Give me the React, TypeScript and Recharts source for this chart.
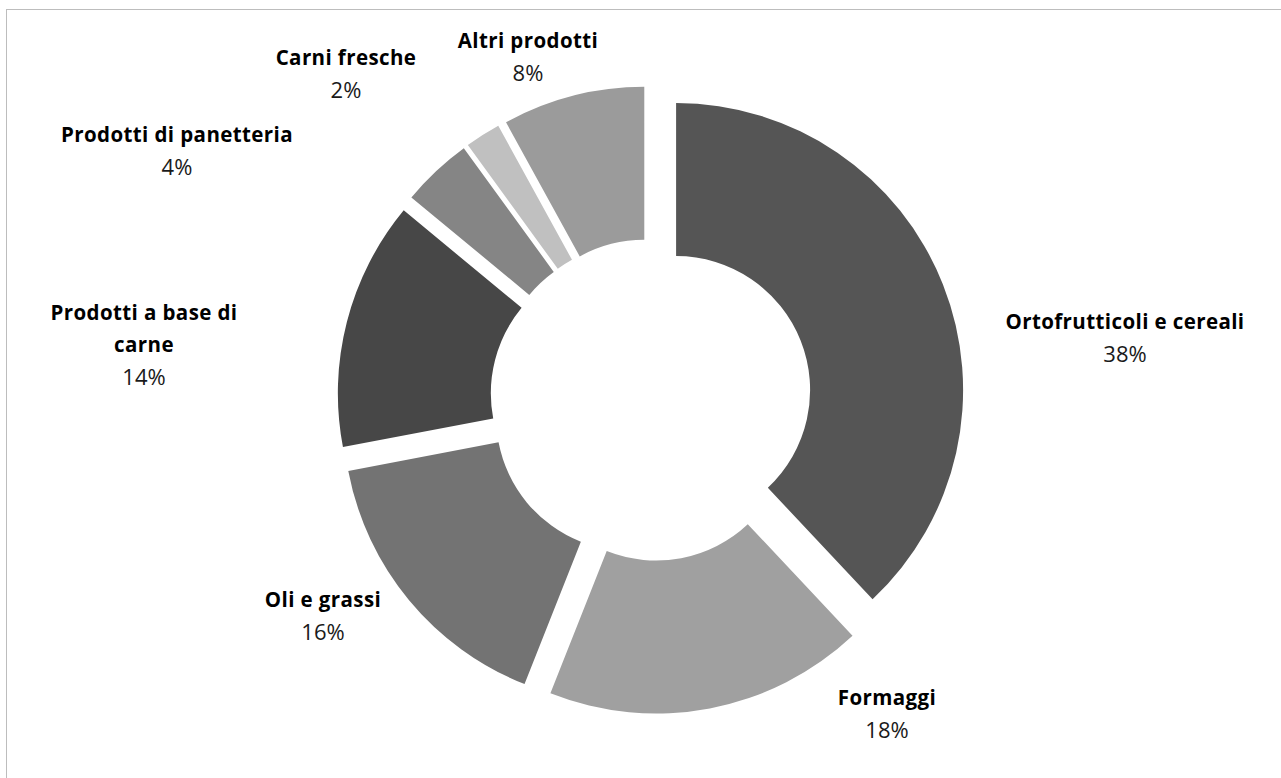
import React from "react";
import { PieChart, Pie, Cell, Sector } from "recharts";

const categories = [
  "Ortofrutticoli e cereali",
  "Formaggi",
  "Oli e grassi",
  "Prodotti a base di\ncarne",
  "Prodotti di panetteria",
  "Carni fresche",
  "Altri prodotti",
];
const shares = [38, 18, 16, 14, 4, 2, 8];

const colors = ["#555555", "#a0a0a0", "#737373", "#474747", "#858585", "#c0c0c0", "#9b9b9b"];

// label anchor (center x, first baseline) relative to pie center
const labelOffsets: Array<[number, number]> = [
  [474, -71],
  [236, 305],
  [-328, 207],
  [-507, -80],
  [-474, -258],
  [-305, -335],
  [-123, -352],
];

const data = categories.map((name, i) => ({ name, value: shares[i] }));

const CX = 646;
const CY = 395;
const EXPLODE = 27;
const RAD = Math.PI / 180;
const FONT = "'Open Sans', 'Noto Sans', sans-serif";

function ExplodedSector(props: any) {
  const { cx, cy, midAngle, innerRadius, outerRadius, startAngle, endAngle, fill } = props;
  const x = cx + EXPLODE * Math.cos(-midAngle * RAD);
  const y = cy + EXPLODE * Math.sin(-midAngle * RAD);
  return (
    <Sector
      cx={x}
      cy={y}
      innerRadius={innerRadius}
      outerRadius={outerRadius}
      startAngle={startAngle}
      endAngle={endAngle}
      fill={fill}
      stroke="none"
    />
  );
}

function renderLabel(props: any) {
  const { cx, cy, index, percent } = props;
  const [ox, oy] = labelOffsets[index];
  const x = cx + ox;
  const y = cy + oy;
  const lines = String(data[index].name).split("\n");
  return (
    <g key={`lbl-${index}`}>
      {lines.map((ln, j) => (
        <text
          key={j}
          x={x}
          y={y + j * 32}
          textAnchor="middle"
          fontFamily={FONT}
          fontSize={20.5}
          fontWeight={700}
          letterSpacing={0.4}
          fill="#000"
        >
          {ln}
        </text>
      ))}
      <text
        x={x}
        y={y + lines.length * 32 + 1}
        textAnchor="middle"
        fontFamily={FONT}
        fontSize={22}
        fill="#1a1a1a"
      >
        {`${Math.round(percent * 100)}%`}
      </text>
    </g>
  );
}

export default function App() {
  return (
    <div
      style={{
        position: "fixed",
        left: 0,
        top: 0,
        width: 1281,
        height: 778,
        overflow: "hidden",
        background: "#fff",
      }}
    >
      <div
        style={{
          position: "absolute",
          left: 6,
          top: 9,
          width: 1300,
          height: 800,
          border: "1.5px solid #bdbdbd",
        }}
      />
      <div style={{ position: "absolute", left: 0, top: 0 }}>
        <PieChart width={1281} height={778}>
          <Pie
            data={data}
            dataKey="value"
            nameKey="name"
            cx={CX}
            cy={CY}
            innerRadius={134}
            outerRadius={287}
            startAngle={90}
            endAngle={-270}
            stroke="none"
            shape={ExplodedSector}
            label={renderLabel}
            labelLine={false}
            isAnimationActive={false}
          >
            {data.map((d, i) => (
              <Cell key={d.name} fill={colors[i]} />
            ))}
          </Pie>
        </PieChart>
      </div>
    </div>
  );
}
